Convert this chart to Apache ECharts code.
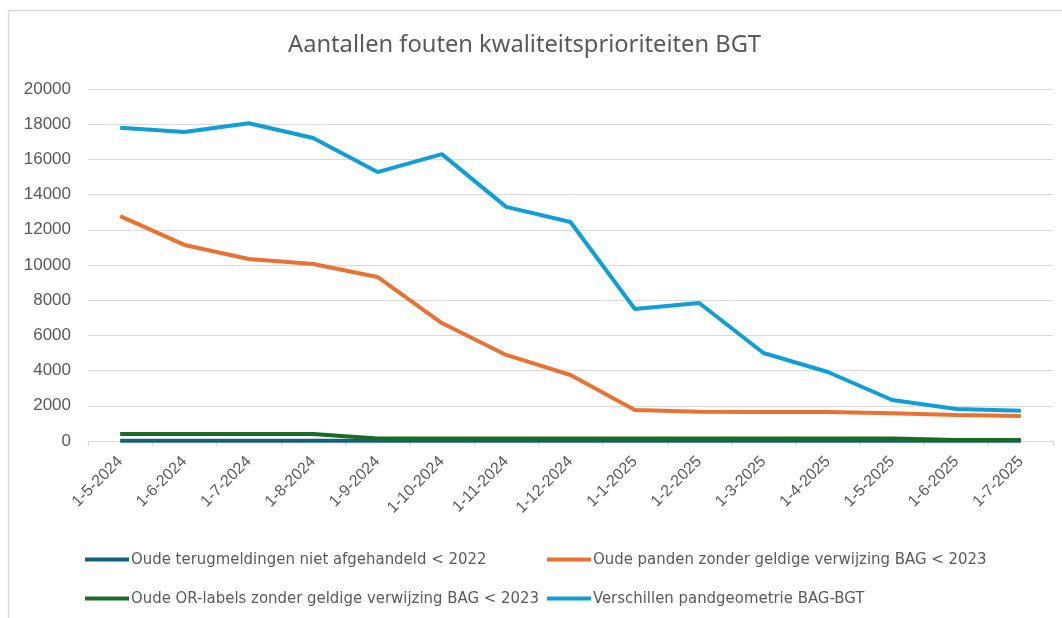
<!DOCTYPE html>
<html>
<head>
<meta charset="utf-8">
<script src="https://cdn.jsdelivr.net/npm/echarts@6/dist/echarts.min.js"></script>
<style>
  html, body { margin: 0; padding: 0; background: #fff; }
  #chart { width: 1062px; height: 618px; }
</style>
</head>
<body>
<div id="chart"></div>
<script>
// categorieen (maanden)
var dates = ['1-5-2024', '1-6-2024', '1-7-2024', '1-8-2024', '1-9-2024', '1-10-2024', '1-11-2024',
  '1-12-2024', '1-1-2025', '1-2-2025', '1-3-2025', '1-4-2025', '1-5-2025', '1-6-2025', '1-7-2025'];

// reeksen
var terugmeldingen = [20, 20, 20, 20, 20, 20, 20, 20, 20, 20, 20, 20, 20, 20, 20];
var pandenZonderBag = [12780, 11140, 10340, 10060, 9320, 6700, 4890, 3750, 1760, 1660, 1650, 1650, 1580, 1480, 1420];
var orLabels = [400, 400, 400, 400, 140, 140, 140, 140, 140, 140, 140, 140, 140, 50, 50];
var pandgeometrie = [17800, 17560, 18050, 17220, 15280, 16300, 13300, 12440, 7500, 7840, 5000, 3920, 2330, 1820, 1720];

var names = [
  'Oude terugmeldingen niet afgehandeld < 2022',
  'Oude panden zonder geldige verwijzing BAG < 2023',
  'Oude OR-labels zonder geldige verwijzing BAG < 2023',
  'Verschillen pandgeometrie BAG-BGT'
];
var colors = ['#156082', '#E97132', '#196B24', '#0F9ED5'];

var chart = echarts.init(document.getElementById('chart'));

function legendAt(name, left, top) {
  return {
    data: [name],
    left: left,
    top: top,
    icon: 'rect',
    itemWidth: 44,
    itemHeight: 4,
    itemGap: 2,
    padding: 0,
    textStyle: {
      fontFamily: "'DejaVu Sans Condensed', 'Liberation Sans', sans-serif",
      fontSize: 16.6,
      color: '#595959',
      padding: [0, 0, 0, -3]
    }
  };
}

function lineSeries(i, data) {
  return {
    name: names[i],
    type: 'line',
    data: data,
    symbol: 'none',
    lineStyle: { width: 4, color: colors[i] },
    itemStyle: { color: colors[i] }
  };
}

var option = {
  animation: false,
  backgroundColor: '#fff',
  color: colors,
  title: {
    text: 'Aantallen fouten kwaliteitsprioriteiten BGT',
    left: 283,
    top: 28,
    textStyle: {
      fontFamily: 'Noto Sans',
      fontWeight: 'normal',
      fontSize: 23.7,
      color: '#595959'
    }
  },
  graphic: [{
    type: 'rect',
    shape: { x: 8.5, y: 10.5, width: 1100, height: 700 },
    style: { fill: 'none', stroke: '#d9d9d9', lineWidth: 1.5 },
    silent: true
  }],
  legend: [
    legendAt(names[0], 85, 551),
    legendAt(names[1], 547, 551),
    legendAt(names[2], 85, 590),
    legendAt(names[3], 547, 590)
  ],
  grid: {
    left: 88,
    right: 9,
    top: 89,
    bottom: 177
  },
  xAxis: {
    type: 'category',
    data: dates,
    boundaryGap: true,
    axisLine: { lineStyle: { color: '#d9d9d9', width: 1 } },
    axisTick: { show: true, length: 5, lineStyle: { color: '#d9d9d9' } },
    axisLabel: {
      rotate: 45,
      interval: 0,
      margin: 18,
      fontFamily: 'Liberation Sans',
      fontSize: 16,
      color: '#595959'
    }
  },
  yAxis: {
    type: 'value',
    min: 0,
    max: 20000,
    interval: 2000,
    axisLine: { show: false },
    axisTick: { show: false },
    axisLabel: {
      margin: 17,
      fontFamily: 'Liberation Sans',
      fontSize: 17,
      color: '#595959',
      formatter: function (v) { return String(v); }
    },
    splitLine: { lineStyle: { color: '#d9d9d9', width: 1 } }
  },
  series: [
    lineSeries(0, terugmeldingen),
    lineSeries(1, pandenZonderBag),
    lineSeries(2, orLabels),
    lineSeries(3, pandgeometrie)
  ]
};

chart.setOption(option);
</script>
</body>
</html>
